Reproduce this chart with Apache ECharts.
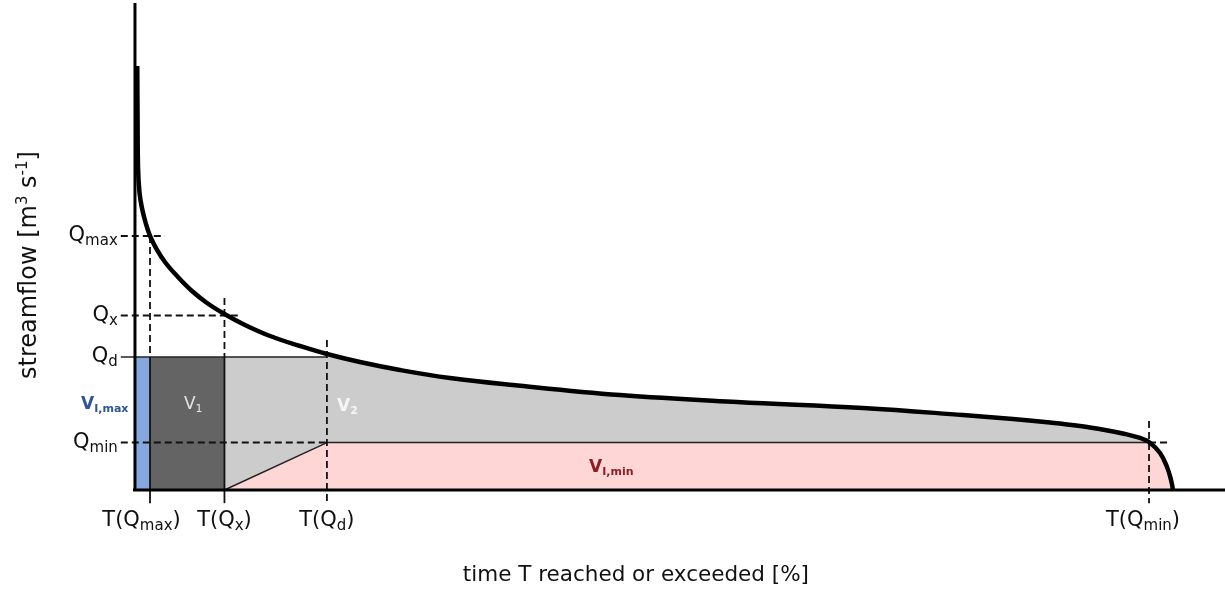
<!DOCTYPE html>
<html>
<head>
<meta charset="utf-8">
<script src="https://cdn.jsdelivr.net/npm/echarts@6.0.0/dist/echarts.min.js"></script>
<style>
html,body{margin:0;padding:0;background:#fff;}
#chart{width:1225px;height:592px;}
</style>
</head>
<body>
<div id="chart"></div>
<script>
// ---- data (schematic flow duration curve) ----
const curveT = [0.21, 0.24, 0.28, 0.41, 0.64, 1.01, 1.38, 1.93, 2.75, 3.94, 5.23, 6.61, 8.21, 10.09, 12.39, 15.14, 17.61, 20.64, 24.31, 28.90, 34.68, 44.50, 55.23, 66.79, 75.96, 80.55, 83.94, 86.70, 88.99, 90.83, 92.20, 93.03, 94.04, 94.68, 95.05, 95.23];
const curveQ = [87.06, 75.97, 66.32, 61.19, 57.91, 54.62, 52.16, 49.69, 46.82, 43.74, 40.86, 38.40, 36.14, 33.88, 31.62, 29.57, 27.93, 26.28, 24.64, 23.00, 21.56, 19.51, 18.07, 16.84, 15.40, 14.58, 13.86, 13.14, 12.32, 11.50, 10.68, 9.86, 7.60, 4.72, 2.05, 0];

const Q_TICKS = [9.75, 27.31, 35.83, 52.16];      // Qmin, Qd, Qx, Qmax
const Q_SUBS  = ['min', 'd', 'x', 'max'];
const T_TICKS = [1.38, 8.21, 17.61, 93.03];       // T(Qmax), T(Qx), T(Qd), T(Qmin)
const T_SUBS  = ['max', 'x', 'd', 'min'];

const Qmin = Q_TICKS[0], Qd = Q_TICKS[1], Qx = Q_TICKS[2], Qmax = Q_TICKS[3];
const TQmax = T_TICKS[0], TQx = T_TICKS[1], TQd = T_TICKS[2], TQmin = T_TICKS[3];

const X_MIN = -1.3, X_MAX = 100, Y_MIN = -2.7, Y_MAX = 100;
const FONT = 'DejaVu Sans';

const curve = curveT.map((t, i) => [t, curveQ[i]]);

function renderOverlay(params, api) {
  const c = (t, q) => api.coord([t, q]);
  const poly = (pts, fill) => ({ type: 'polygon', shape: { points: pts.map(p => c(p[0], p[1])) }, style: { fill: fill, stroke: null } });
  const seg = (a, b, w, dash, color) => {
    const p1 = c(a[0], a[1]), p2 = c(b[0], b[1]);
    return { type: 'line', shape: { x1: p1[0], y1: p1[1], x2: p2[0], y2: p2[1] },
      style: { stroke: color || '#111', lineWidth: w, lineDash: dash ? [7, 4] : null } };
  };
  const children = [];
  // volumes
  children.push(poly([[0, 0], [TQmax, 0], [TQmax, Qd], [0, Qd]], '#85a9de'));
  children.push(poly([[TQmax, 0], [TQx, 0], [TQx, Qd], [TQmax, Qd]], '#646464'));
  const greyTop = curve.filter(p => p[0] > TQd && p[0] < TQmin);
  const curveAtMin = curve.find(p => p[0] === TQmin) || [TQmin, Qmin];
  children.push(poly([[TQx, 0], [TQx, Qd], [TQd, Qd]].concat(greyTop, [curveAtMin, [TQmin, Qmin], [TQd, Qmin]]), '#cccccc'));
  const pinkRight = curve.filter(p => p[0] > TQmin);
  children.push(poly([[TQx, 0], [TQd, Qmin], [TQmin, Qmin]].concat(pinkRight, [[curveT[curveT.length - 1], 0]]), '#ffd6d6'));

  // horizontal guides
  children.push(seg([X_MIN, Qd], [TQd, Qd], 1.6, false, '#222'));
  children.push(seg([X_MIN, Qmax], [2.75, Qmax], 1.8, true));
  children.push(seg([X_MIN, Qx], [9.72, Qx], 1.8, true));
  children.push(seg([X_MIN, Qmin], [TQd, Qmin], 1.8, true));
  children.push(seg([TQd, Qmin], [TQmin, Qmin], 1.4, false, '#222'));
  children.push(seg([TQmin, Qmin], [95.05, Qmin], 1.8, true));
  // diagonal
  children.push(seg([TQx, 0], [TQd, Qmin], 1.4, false, '#222'));
  // vertical guides
  children.push(seg([TQmax, Qmax], [TQmax, Qd], 1.8, true));
  children.push(seg([TQmax, Qd], [TQmax, Y_MIN], 1.8, false));
  children.push(seg([TQx, 39.4], [TQx, Qd], 1.8, true));
  children.push(seg([TQx, Qd], [TQx, Y_MIN], 1.8, false));
  children.push(seg([TQd, 30.8], [TQd, Y_MIN], 1.8, true));
  children.push(seg([TQmin, 14.17], [TQmin, Y_MIN], 1.8, true));
  // axes
  children.push(seg([0, 0], [0, Y_MAX], 3, false, '#000'));
  children.push(seg([-0.18, 0], [X_MAX, 0], 3, false, '#000'));

  // volume labels
  const txt = (t, q, text, color, bold, align) => {
    const p = c(t, q);
    return { type: 'text', x: p[0], y: p[1], style: {
      text: text, align: align || 'center', verticalAlign: 'middle',
      rich: {
        v: { fontFamily: FONT, fontSize: 17, fontWeight: bold ? 'bold' : 'normal', fill: color, lineHeight: 20 },
        s: { fontFamily: FONT, fontSize: 11, fontWeight: bold ? 'bold' : 'normal', fill: color, lineHeight: 14, verticalAlign: 'bottom' }
      } } };
  };
  children.push(txt(-0.6, 17.45, '{v|V}{s|I,max}', '#2f5597', true, 'right'));
  children.push(txt(5.35, 17.6, '{v|V}{s|1}', '#e4e4e4', false));
  children.push(txt(19.5, 17.1, '{v|V}{s|2}', '#f6f6f6', true));
  children.push(txt(43.7, 4.6, '{v|V}{s|I,min}', '#8b1e24', true));
  return { type: 'group', children: children };
}

const labelRich = {
  q: { fontFamily: FONT, fontSize: 21, color: '#111', lineHeight: 26 },
  s: { fontFamily: FONT, fontSize: 15, color: '#111', lineHeight: 15, verticalAlign: 'bottom' },
  g1: { width: 17 },
  g2: { width: 12 }
};

const chart = echarts.init(document.getElementById('chart'), null, { renderer: 'canvas' });
chart.setOption({
  animation: false,
  backgroundColor: '#fff',
  grid: { left: 120.8, right: 0, top: 3, bottom: 88.85, containLabel: false },
  xAxis: {
    type: 'value', min: X_MIN, max: X_MAX,
    axisLine: { show: false, onZero: false }, axisTick: { show: false }, splitLine: { show: false },
    axisLabel: {
      customValues: T_TICKS, margin: 4,
      formatter: v => {
        const i = T_TICKS.findIndex(t => Math.abs(t - v) < 1e-6);
        if (i < 0) return '';
        const gap = i === 0 ? '{g1| }' : (i === 3 ? '{g2| }' : '');
        return '{q|T(Q}{s|' + T_SUBS[i] + '}{q|)}' + gap;
      },
      rich: labelRich
    },
    name: 'time T reached or exceeded [%]', nameLocation: 'middle', nameGap: 61,
    nameTextStyle: { fontFamily: FONT, fontSize: 21.5, color: '#111', padding: [0, 74, 0, 0] }
  },
  yAxis: {
    type: 'value', min: Y_MIN, max: Y_MAX,
    axisLine: { show: false, onZero: false }, axisTick: { show: false }, splitLine: { show: false },
    axisLabel: {
      customValues: Q_TICKS, margin: 3,
      formatter: v => {
        const i = Q_TICKS.findIndex(q => Math.abs(q - v) < 1e-6);
        return i < 0 ? '' : '{q|Q}{s|' + Q_SUBS[i] + '}';
      },
      rich: labelRich
    },
    name: '{a|streamflow [m}{p|3}{a| s}{p|-1}{a|]}', nameLocation: 'middle', nameGap: 77, nameRotate: 90,
    nameTextStyle: {
      padding: [0, 24, 0, 0],
      rich: {
        a: { fontFamily: FONT, fontSize: 24, color: '#111', lineHeight: 28 },
        p: { fontFamily: FONT, fontSize: 15, color: '#111', lineHeight: 15, verticalAlign: 'top' }
      }
    }
  },
  series: [
    { type: 'custom', coordinateSystem: 'cartesian2d', data: [[0, 0]], renderItem: renderOverlay, silent: true, z: 1, clip: false },
    { type: 'line', data: curve, showSymbol: false, smooth: 0.4,
      lineStyle: { color: '#000', width: 4.5 }, silent: true, z: 5 }
  ]
});
</script>
</body>
</html>
